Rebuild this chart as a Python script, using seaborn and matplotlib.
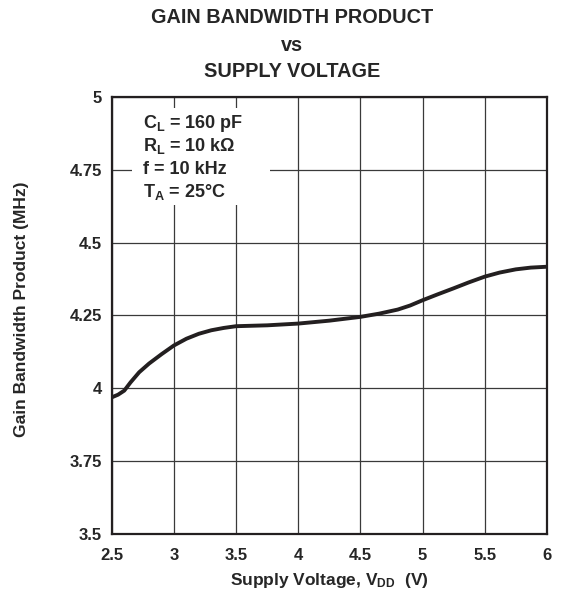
import matplotlib
matplotlib.use("Agg")
import matplotlib.pyplot as plt
from matplotlib.patches import Rectangle
import pandas as pd
import seaborn as sns

# data
supply_v = [2.5, 2.55, 2.6, 2.65, 2.72, 2.8, 2.9, 3.0, 3.1, 3.2, 3.3, 3.4, 3.5,
            3.75, 4.0, 4.25, 4.5, 4.65, 4.8, 4.9, 5.0, 5.12, 5.25, 5.37, 5.5,
            5.62, 5.75, 5.87, 6.0]
gbw_mhz = [3.969, 3.978, 3.992, 4.02, 4.055, 4.085, 4.117, 4.147, 4.17, 4.187,
           4.199, 4.207, 4.213, 4.216, 4.222, 4.232, 4.245, 4.256, 4.27, 4.284,
           4.302, 4.322, 4.343, 4.363, 4.383, 4.397, 4.408, 4.414, 4.417]
x_ticks = [2.5, 3, 3.5, 4, 4.5, 5, 5.5, 6]
y_ticks = [3.5, 3.75, 4, 4.25, 4.5, 4.75, 5]
x_labels = ["2.5", "3", "3.5", "4", "4.5", "5", "5.5", "6"]
y_labels = ["3.5", "3.75", "4", "4.25", "4.5", "4.75", "5"]
conditions = [r"C$_\mathbf{L}$ = 160 pF", r"R$_\mathbf{L}$ = 10 k$\Omega$",
              "f = 10 kHz", r"T$_\mathbf{A}$ = 25°C"]

sns.set_style("white")
plt.rcParams["font.family"] = ["Liberation Sans", "DejaVu Sans"]
plt.rcParams["font.weight"] = "bold"
plt.rcParams["mathtext.fontset"] = "custom"
plt.rcParams["mathtext.rm"] = "Liberation Sans:bold"
plt.rcParams["mathtext.bf"] = "Liberation Sans:bold"
plt.rcParams["mathtext.default"] = "bf"

df = pd.DataFrame({"v": supply_v, "gbw": gbw_mhz})

fig = plt.figure(figsize=(5.62, 5.94), dpi=100)
ax = fig.add_axes([0.199, 0.101, 0.774, 0.736])

sns.lineplot(data=df, x="v", y="gbw", color="#231f20", linewidth=2.8, ax=ax, zorder=5)

ax.set_xlim(2.5, 6)
ax.set_ylim(3.5, 5)
ax.set_xticks(x_ticks)
ax.set_xticklabels(x_labels, fontsize=12, fontweight="bold")
ax.set_yticks(y_ticks)
ax.set_yticklabels(y_labels, fontsize=12, fontweight="bold")
ax.tick_params(axis="both", length=0)
ax.tick_params(axis="x", pad=10)
ax.tick_params(axis="y", pad=7)
ax.grid(True, color="#3a3a3a", linewidth=0.9)
for s in ax.spines.values():
    s.set_color("#231f20")
    s.set_linewidth(1.6)
    s.set_zorder(6)

ax.set_xlabel(r"Supply Voltage, V$_\mathbf{DD}$  (V)", fontsize=12.5, fontweight="bold", labelpad=6)
ax.set_ylabel("Gain Bandwidth Product (MHz)", fontsize=12.5, fontweight="bold", labelpad=24)
ax.yaxis.set_label_coords(-0.19, 0.515)

# white box behind the test conditions
ax.add_patch(Rectangle((0.046, 0.753), 0.317, 0.222, transform=ax.transAxes,
                       facecolor="white", edgecolor="none", zorder=3))
for i, txt in enumerate(conditions):
    ax.text(0.071, [0.929, 0.876, 0.824, 0.771][i], txt, transform=ax.transAxes,
            fontsize=13, fontweight="bold", va="baseline", ha="left", zorder=4)

fig.text(0.52, 0.971, "GAIN BANDWIDTH PRODUCT", ha="center", va="center",
         fontsize=14.3, fontweight="bold")
fig.text(0.52, 0.924, "vs", ha="center", va="center", fontsize=14.3, fontweight="bold")
fig.text(0.52, 0.880, "SUPPLY VOLTAGE", ha="center", va="center",
         fontsize=14.3, fontweight="bold")

fig.savefig("out.png", dpi=100)
